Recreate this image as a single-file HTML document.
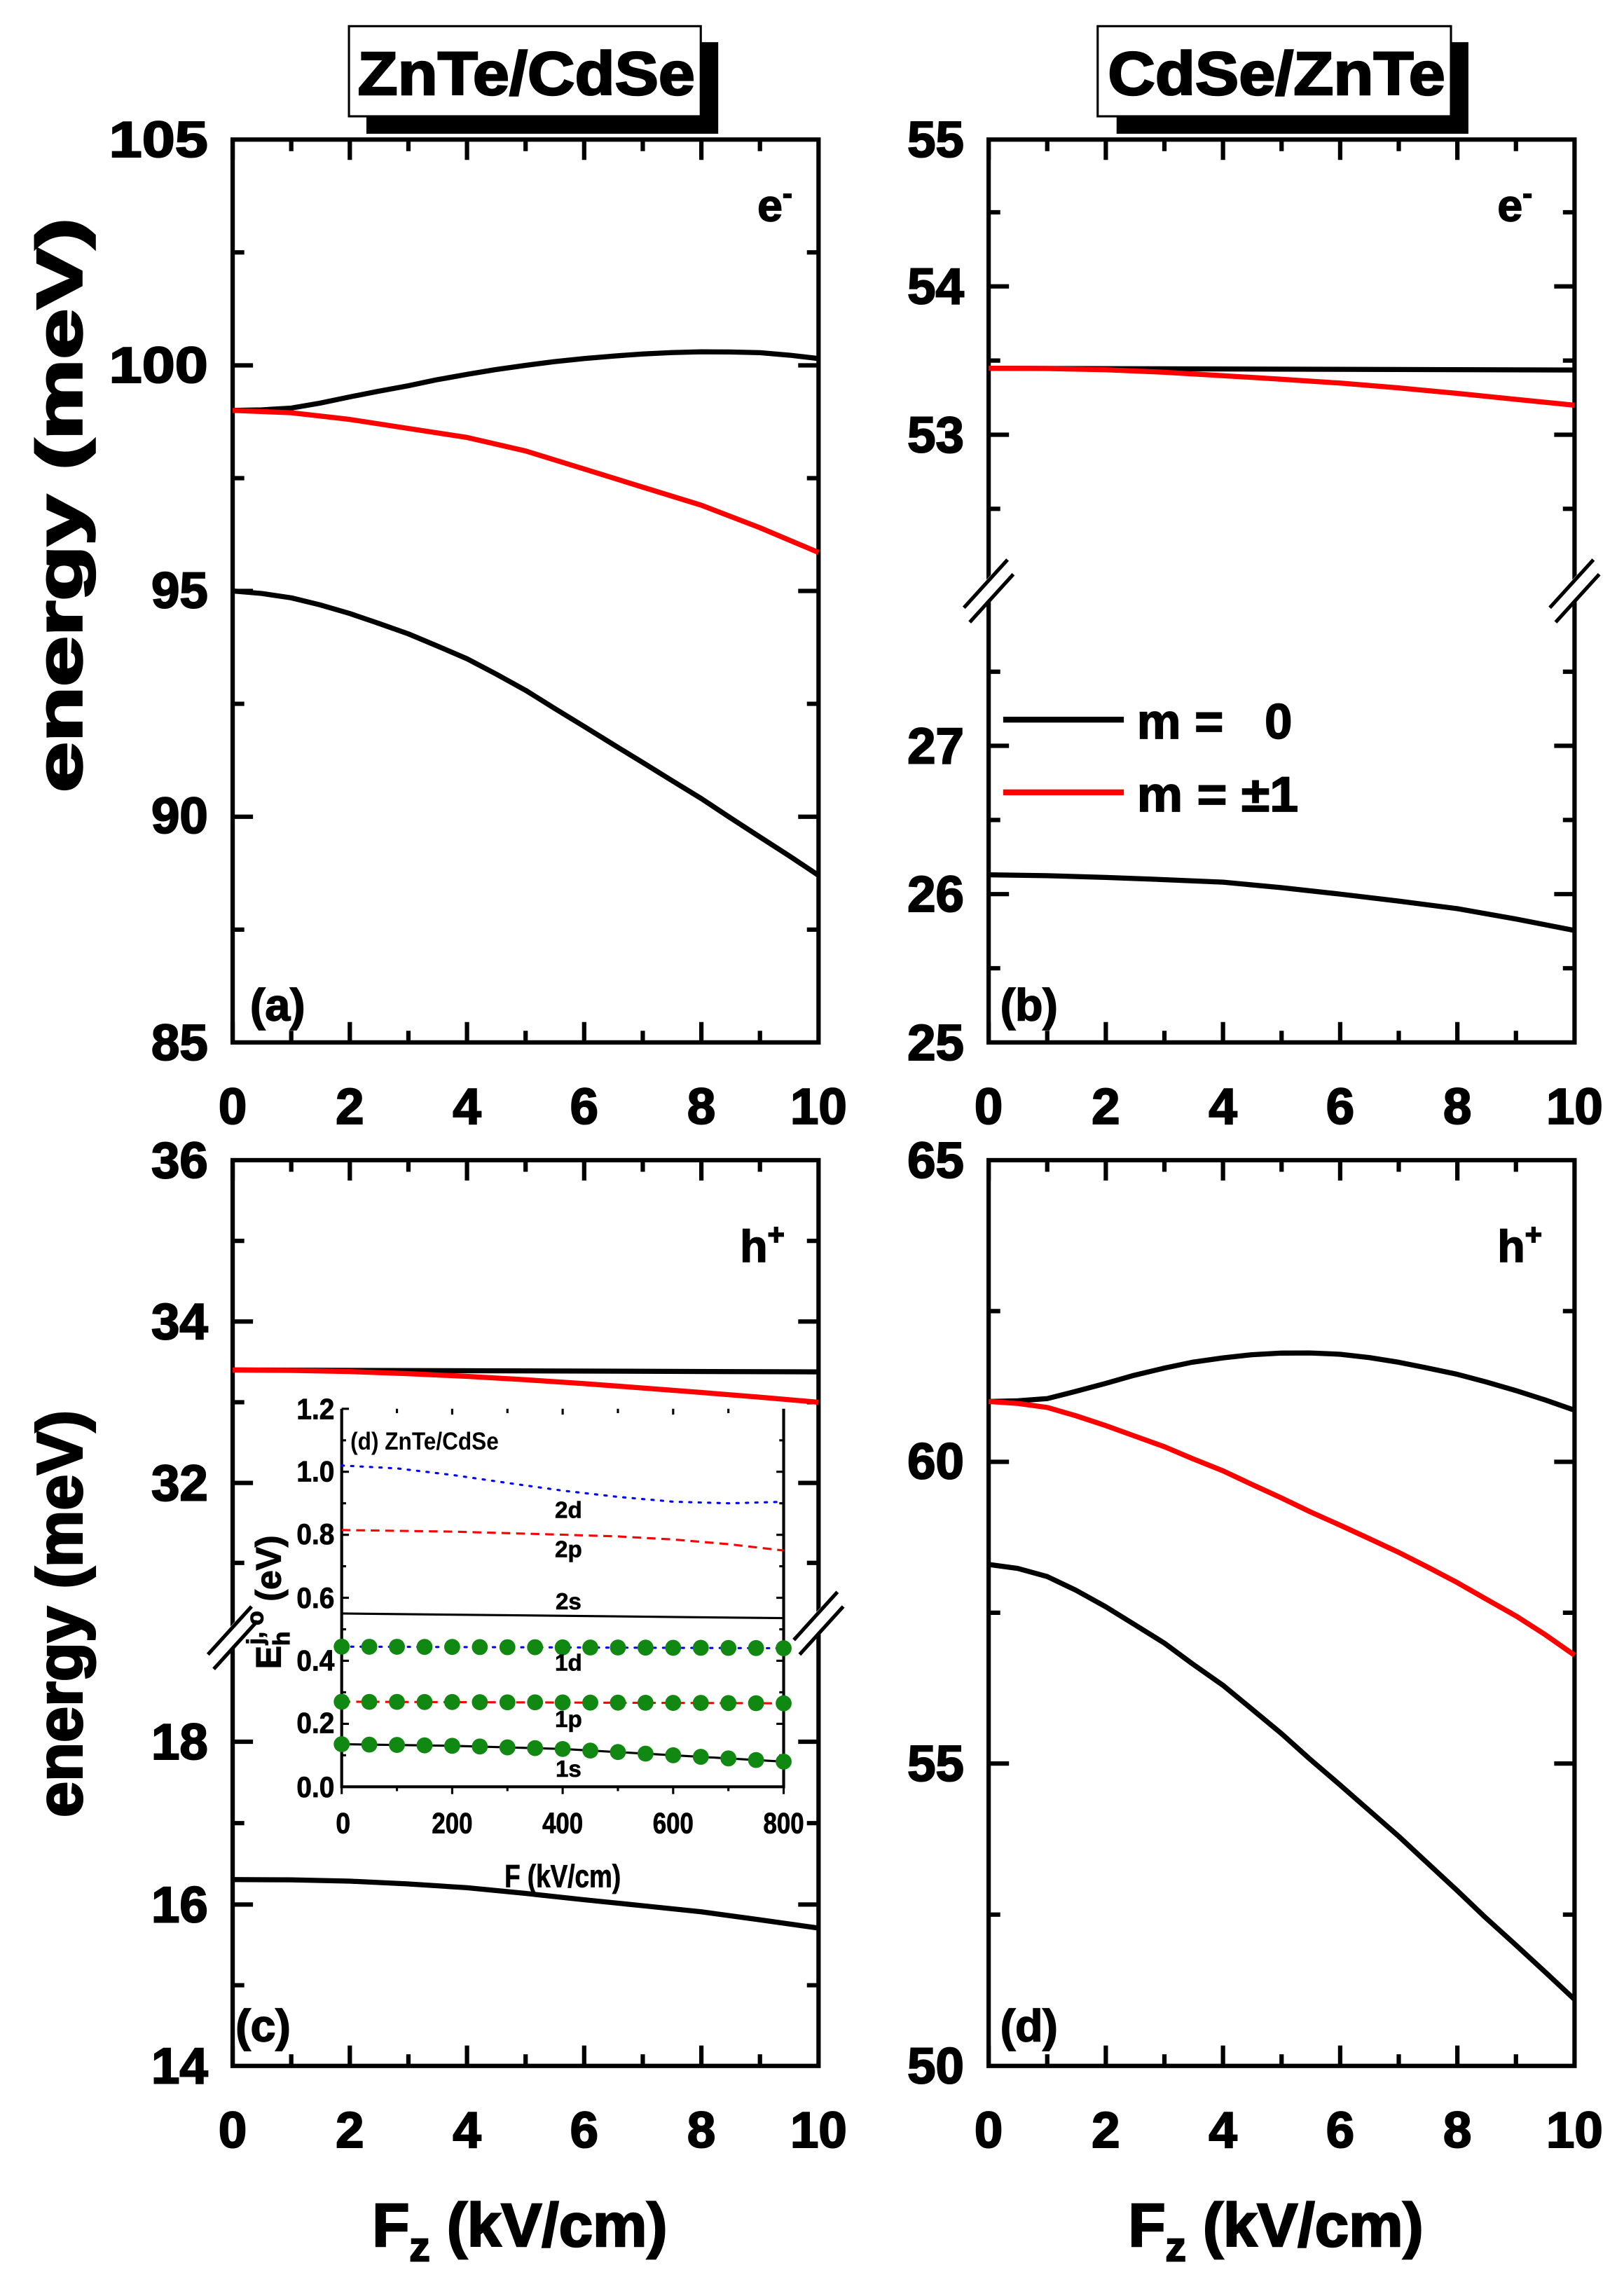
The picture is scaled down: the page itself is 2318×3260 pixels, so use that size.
<!DOCTYPE html>
<html><head><meta charset="utf-8"><style>html,body{margin:0;padding:0;background:#fff}svg{display:block}</style></head>
<body>
<svg width="2318" height="3260" viewBox="0 0 1117 1571" xmlns="http://www.w3.org/2000/svg" font-family="Liberation Sans, Arial, sans-serif" font-weight="bold">
<rect width="1117" height="1571" fill="#fff"/>
<rect x="252" y="29" width="242" height="63" fill="#000"/>
<rect x="240" y="18" width="242" height="62" fill="#fff" stroke="#000" stroke-width="1.5"/>
<text x="246" y="65" font-size="42" stroke="#000" stroke-width="1.2" textLength="232" lengthAdjust="spacingAndGlyphs">ZnTe/CdSe</text>
<rect x="768" y="29" width="242" height="63" fill="#000"/>
<rect x="755" y="18" width="243" height="62" fill="#fff" stroke="#000" stroke-width="1.5"/>
<text x="762" y="65" font-size="42" stroke="#000" stroke-width="1.2" textLength="232" lengthAdjust="spacingAndGlyphs">CdSe/ZnTe</text>

<g id="frames" fill="none" stroke="#000" stroke-width="3">
<rect x="160" y="96" width="403" height="621"/>
<rect x="680" y="96" width="403" height="621"/>
<rect x="160" y="798" width="403" height="623"/>
<rect x="680" y="798" width="403" height="623"/>
</g>
<g stroke="#000" stroke-width="3">
<path d="M160 717v-14M200.3 717v-8M240.6 717v-14M280.9 717v-8M321.2 717v-14M361.5 717v-8M401.8 717v-14M442.1 717v-8M482.4 717v-14M522.7 717v-8
M160 96v14M200.3 96v8M240.6 96v14M280.9 96v8M321.2 96v14M361.5 96v8M401.8 96v14M442.1 96v8M482.4 96v14M522.7 96v8
M680 717v-14M720.3 717v-8M760.6 717v-14M800.9 717v-8M841.2 717v-14M881.5 717v-8M921.8 717v-14M962.1 717v-8M1002.4 717v-14M1042.7 717v-8
M680 96v14M720.3 96v8M760.6 96v14M800.9 96v8M841.2 96v14M881.5 96v8M921.8 96v14M962.1 96v8M1002.4 96v14M1042.7 96v8
M160 1421v-14M200.3 1421v-8M240.6 1421v-14M280.9 1421v-8M321.2 1421v-14M361.5 1421v-8M401.8 1421v-14M442.1 1421v-8M482.4 1421v-14M522.7 1421v-8
M160 798v14M200.3 798v8M240.6 798v14M280.9 798v8M321.2 798v14M361.5 798v8M401.8 798v14M442.1 798v8M482.4 798v14M522.7 798v8
M680 1421v-14M720.3 1421v-8M760.6 1421v-14M800.9 1421v-8M841.2 1421v-14M881.5 1421v-8M921.8 1421v-14M962.1 1421v-8M1002.4 1421v-14M1042.7 1421v-8
M680 798v14M720.3 798v8M760.6 798v14M800.9 798v8M841.2 798v14M881.5 798v8M921.8 798v14M962.1 798v8M1002.4 798v14M1042.7 798v8"/>
<path d="M160 251.3h14M160 406.5h14M160 561.8h14M160 173.6h8M160 328.9h8M160 484.1h8M160 639.4h8
M563 251.3h-14M563 406.5h-14M563 561.8h-14M563 173.6h-8M563 328.9h-8M563 484.1h-8M563 639.4h-8"/>
<path d="M680 197h14M680 299h14M680 513h14M680 615h14M680 146h8M680 248h8M680 350h8M680 462h8M680 564h8M680 666h8
M1083 197h-14M1083 299h-14M1083 513h-14M1083 615h-14M1083 146h-8M1083 248h-8M1083 350h-8M1083 462h-8M1083 564h-8M1083 666h-8"/>
<path d="M160 909h14M160 1020h14M160 1198h14M160 1310h14M160 853.5h8M160 964.5h8M160 1075h8M160 1254h8M160 1365.5h8
M563 909h-14M563 1020h-14M563 1198h-14M563 1310h-14M563 853.5h-8M563 964.5h-8M563 1075h-8M563 1254h-8M563 1365.5h-8"/>
<path d="M680 1005.5h14M680 1213h14M680 901.8h8M680 1109.3h8M680 1316.9h8
M1083 1005.5h-14M1083 1213h-14M1083 901.8h-8M1083 1109.3h-8M1083 1316.9h-8"/>
</g>
<g>
<path d="M663 423L697 386M1066 423L1100 386M143 1143L177 1106M546 1133L580 1096" stroke="#fff" stroke-width="10"/>
<path d="M663 418L693 385M667 428L697 395M1066 418L1096 385M1070 428L1100 395M143 1138L173 1105M147 1148L177 1115M546 1128L576 1095M550 1138L580 1105" stroke="#000" stroke-width="2.5"/>
</g>

<g font-size="35" text-anchor="end" stroke="#000" stroke-width="1">
<text x="143" y="108" textLength="68" lengthAdjust="spacingAndGlyphs">105</text><text x="143" y="263" textLength="68" lengthAdjust="spacingAndGlyphs">100</text><text x="143" y="418">95</text><text x="143" y="573">90</text><text x="143" y="729">85</text>
<text x="663" y="108">55</text><text x="663" y="209">54</text><text x="663" y="311">53</text><text x="663" y="525">27</text><text x="663" y="627">26</text><text x="663" y="729">25</text>
<text x="143" y="810">36</text><text x="143" y="921">34</text><text x="143" y="1032">32</text><text x="143" y="1210">18</text><text x="143" y="1322">16</text><text x="143" y="1433">14</text>
<text x="663" y="810">65</text><text x="663" y="1017">60</text><text x="663" y="1225">55</text><text x="663" y="1433">50</text>
</g>
<g font-size="35" text-anchor="middle" stroke="#000" stroke-width="1">
<text x="160" y="773">0</text><text x="240.6" y="773">2</text><text x="321.2" y="773">4</text><text x="401.8" y="773">6</text><text x="482.4" y="773">8</text><text x="563" y="773">10</text>
<text x="680" y="773">0</text><text x="760.6" y="773">2</text><text x="841.2" y="773">4</text><text x="921.8" y="773">6</text><text x="1002.4" y="773">8</text><text x="1083" y="773">10</text>
<text x="160" y="1477">0</text><text x="240.6" y="1477">2</text><text x="321.2" y="1477">4</text><text x="401.8" y="1477">6</text><text x="482.4" y="1477">8</text><text x="563" y="1477">10</text>
<text x="680" y="1477">0</text><text x="760.6" y="1477">2</text><text x="841.2" y="1477">4</text><text x="921.8" y="1477">6</text><text x="1002.4" y="1477">8</text><text x="1083" y="1477">10</text>
</g>
<text transform="translate(56 545) rotate(-90)" font-size="44" stroke="#000" stroke-width="1.5" textLength="395" lengthAdjust="spacingAndGlyphs">energy (meV)</text>
<text transform="translate(56 1250) rotate(-90)" font-size="44" stroke="#000" stroke-width="1.5" textLength="280" lengthAdjust="spacingAndGlyphs">energy (meV)</text>
<text x="256" y="1545" font-size="42" stroke="#000" stroke-width="1.2">F<tspan font-size="28" dy="10">z</tspan><tspan dy="-10"> (kV/cm)</tspan></text>
<text x="776" y="1545" font-size="42" stroke="#000" stroke-width="1.2">F<tspan font-size="28" dy="10">z</tspan><tspan dy="-10"> (kV/cm)</tspan></text>

<g font-size="31" stroke="#000" stroke-width="0.8">
<text x="521" y="152">e<tspan font-size="20" dy="-12">-</tspan></text>
<text x="1030" y="152">e<tspan font-size="20" dy="-12">-</tspan></text>
<text x="509" y="868">h<tspan font-size="20" dy="-12">+</tspan></text>
<text x="1030" y="868">h<tspan font-size="20" dy="-12">+</tspan></text>
<text x="172" y="702">(a)</text>
<text x="688" y="702">(b)</text>
<text x="162" y="1404">(c)</text>
<text x="688" y="1404">(d)</text>
</g>
<line x1="690" y1="495" x2="773" y2="495" stroke="#000" stroke-width="4"/>
<line x1="690" y1="545" x2="773" y2="545" stroke="#f00" stroke-width="4"/>
<text x="782" y="508" font-size="34" stroke="#000" stroke-width="0.8" xml:space="preserve">m =   0</text>
<text x="782" y="558" font-size="34" stroke="#000" stroke-width="0.8" textLength="111" lengthAdjust="spacingAndGlyphs">m = ±1</text>

<g fill="none" stroke-width="3.5" stroke-linejoin="round">
<polyline stroke="#000" points="160,282.3 180,281.9 200.3,280.7 220,277.3 240.6,273 260,269.2 280.9,265.3 300,261.3 321.2,257.5 341,254.2 361.5,251.3 381,248.8 401.8,246.6 422,244.9 442.1,243.5 462,242.5 482.4,242 502,242.1 522.7,242.6 543,244.3 563,246.6"/>
<polyline stroke="#f00" points="160,282.3 200.3,283.9 240.6,288.5 280.9,294.7 321.2,300.9 361.5,310.2 401.8,322.6 442.1,335.1 482.4,347.5 522.7,363 563,380"/>
<polyline stroke="#000" points="160,406.5 180,408.2 200.3,411.2 220,416 240.6,422 260,428.6 280.9,436 300,444 321.2,453.1 341,463.5 361.5,474.8 381,487 401.8,499.7 422,512.2 442.1,524.5 462,536.8 482.4,549.3 502,562.3 522.7,575.7 543,588.8 563,602.1"/>

<polyline stroke="#000" points="680,253.3 1083,254.5"/>
<polyline stroke="#f00" points="680,253.3 720,253.5 760.6,254.3 800,256 841.2,258.4 881,260.8 921.8,263.5 962,266.8 1002.4,270.6 1042,274.6 1083,278.7"/>
<polyline stroke="#000" points="680,601.7 720,602.3 760.6,603.5 800,605 841.2,606.8 881,610.5 921.8,615 962,619.8 1002.4,625 1042,632 1083,640"/>

<polyline stroke="#000" points="160,942.3 563,943.6"/>
<polyline stroke="#f00" points="160,942.3 200,942.6 240.6,943.4 280,944.8 321.2,946.7 361,949 401.8,951.7 442,954.7 482.4,957.8 522,961 563,964.5"/>
<polyline stroke="#000" points="160,1292.8 200,1293 240.6,1293.9 280,1295.8 321.2,1298.4 361,1302.3 401.8,1306.7 442,1310.8 482.4,1315 522,1320.4 563,1326.2"/>

<polyline stroke="#000" points="680,964 700,963.5 720.3,962 740,957 760.6,951.5 780,946 800.9,941 820,937 841.2,934 861,931.8 881.5,930.7 901,930.6 921.8,931.5 942,933.8 962.1,937 982,941 1002.4,945.3 1022,950.5 1042.7,956.5 1063,963 1083,970"/>
<polyline stroke="#f00" points="680,964 700,965.3 720.3,968.1 740,973.8 760.6,980.6 780,987.6 800.9,995.1 820,1003.2 841.2,1011.7 861,1021 881.5,1030.4 901,1039.8 921.8,1049.1 942,1058.4 962.1,1067.8 982,1077.9 1002.4,1088.6 1022,1099.8 1042.7,1111.5 1063,1124.5 1083,1138.5"/>
<polyline stroke="#000" points="680,1076.1 700,1078.8 720.3,1084.4 740,1093.8 760.6,1105.2 780,1117.2 800.9,1130.2 820,1144.3 841.2,1159.2 861,1175.5 881.5,1192.5 901,1210 921.8,1227.8 942,1245.5 962.1,1263.1 982,1281.6 1002.4,1300.5 1022,1319.2 1042.7,1337.9 1063,1356.6 1083,1375.3"/>
</g>

<g>
<rect x="235" y="969" width="304" height="260" fill="#fff"/>
<path d="M235 969V1229H539V969" fill="none" stroke="#000" stroke-width="2"/>
<g stroke="#000" stroke-width="1.5">
<path d="M235 1229h5M235 1185.7h5M235 1142.3h5M235 1099h5M235 1055.7h5M235 1012.3h5M235 969h5M235 1207.3h3M235 1164h3M235 1120.7h3M235 1077.3h3M235 1034h3M235 990.7h3
M539 1185.7h-5M539 1142.3h-5M539 1099h-5M539 1055.7h-5M539 1012.3h-5M539 1207.3h-3M539 1164h-3M539 1120.7h-3M539 1077.3h-3M539 1034h-3M539 990.7h-3
M235 1229v5M311 1229v5M387 1229v5M463 1229v5M539 1229v5M273 1229v3M349 1229v3M425 1229v3M501 1229v3
M311 969v4M387 969v4M463 969v4M273 969v3M349 969v3M425 969v3M501 969v3"/>
</g>
<g font-size="20" text-anchor="end" stroke="#000" stroke-width="0.4">
<text x="230" y="976" textLength="26" lengthAdjust="spacingAndGlyphs">1.2</text>
<text x="230" y="1019" textLength="26" lengthAdjust="spacingAndGlyphs">1.0</text>
<text x="230" y="1062" textLength="26" lengthAdjust="spacingAndGlyphs">0.8</text>
<text x="230" y="1106" textLength="26" lengthAdjust="spacingAndGlyphs">0.6</text>
<text x="230" y="1149" textLength="26" lengthAdjust="spacingAndGlyphs">0.4</text>
<text x="230" y="1192" textLength="26" lengthAdjust="spacingAndGlyphs">0.2</text>
<text x="230" y="1236" textLength="26" lengthAdjust="spacingAndGlyphs">0.0</text>
</g>
<g font-size="20" text-anchor="middle" stroke="#000" stroke-width="0.4">
<text x="236" y="1261" textLength="10" lengthAdjust="spacingAndGlyphs">0</text><text x="311" y="1261" textLength="28" lengthAdjust="spacingAndGlyphs">200</text><text x="387" y="1261" textLength="28" lengthAdjust="spacingAndGlyphs">400</text><text x="463" y="1261" textLength="28" lengthAdjust="spacingAndGlyphs">600</text><text x="539" y="1261" textLength="28" lengthAdjust="spacingAndGlyphs">800</text>
</g>
<text x="347" y="1298" font-size="22" stroke="#000" stroke-width="0.4" textLength="80" lengthAdjust="spacingAndGlyphs">F (kV/cm)</text>
<text x="241" y="997" font-size="17" textLength="102" lengthAdjust="spacingAndGlyphs">(d) ZnTe/CdSe</text>
<text transform="translate(193 1148) rotate(-90)" font-size="24" stroke="#000" stroke-width="0.6">E<tspan font-size="16" dy="6">h</tspan><tspan font-size="16" dy="-18" dx="-9">j, o</tspan><tspan dy="12"> (eV)</tspan></text>
<g fill="none" stroke-width="1.5">
<polyline stroke="#0000ff" stroke-dasharray="1.5 5" stroke-linecap="round" points="235,1008 273,1010 311,1014.5 349,1020 387,1025.3 425,1029.6 463,1032.9 501,1034 539,1033"/>
<polyline stroke="#f00" stroke-dasharray="6 4" points="235,1052.4 311,1053.5 387,1055.6 425,1056.8 463,1058.9 501,1062.1 539,1066.5"/>
<polyline stroke="#000" points="235,1109.8 539,1113"/>
<polyline stroke="#0000ff" stroke-dasharray="1.5 5" stroke-linecap="round" points="235,1132.6 539,1133.7"/>
<polyline stroke="#f00" stroke-dasharray="6 4" points="235,1170.5 539,1171.6"/>
<polyline stroke="#000" points="235,1199.7 311,1200.8 387,1203 463,1207.3 539,1211.7"/>
</g>
<g fill="#118811">
<circle cx="235" cy="1132.6" r="5.5"/><circle cx="254" cy="1132.7" r="5.5"/><circle cx="273" cy="1132.7" r="5.5"/><circle cx="292" cy="1132.8" r="5.5"/><circle cx="311" cy="1132.8" r="5.5"/><circle cx="330" cy="1132.9" r="5.5"/><circle cx="349" cy="1133" r="5.5"/><circle cx="368" cy="1133" r="5.5"/><circle cx="387" cy="1133.1" r="5.5"/><circle cx="406" cy="1133.2" r="5.5"/><circle cx="425" cy="1133.2" r="5.5"/><circle cx="444" cy="1133.3" r="5.5"/><circle cx="463" cy="1133.4" r="5.5"/><circle cx="482" cy="1133.4" r="5.5"/><circle cx="501" cy="1133.5" r="5.5"/><circle cx="520" cy="1133.6" r="5.5"/><circle cx="539" cy="1133.7" r="5.5"/>
<circle cx="235" cy="1170.5" r="5.5"/><circle cx="254" cy="1170.6" r="5.5"/><circle cx="273" cy="1170.6" r="5.5"/><circle cx="292" cy="1170.7" r="5.5"/><circle cx="311" cy="1170.7" r="5.5"/><circle cx="330" cy="1170.8" r="5.5"/><circle cx="349" cy="1170.9" r="5.5"/><circle cx="368" cy="1170.9" r="5.5"/><circle cx="387" cy="1171" r="5.5"/><circle cx="406" cy="1171.1" r="5.5"/><circle cx="425" cy="1171.1" r="5.5"/><circle cx="444" cy="1171.2" r="5.5"/><circle cx="463" cy="1171.3" r="5.5"/><circle cx="482" cy="1171.3" r="5.5"/><circle cx="501" cy="1171.4" r="5.5"/><circle cx="520" cy="1171.5" r="5.5"/><circle cx="539" cy="1171.6" r="5.5"/>
<circle cx="235" cy="1199.7" r="5.5"/><circle cx="254" cy="1200" r="5.5"/><circle cx="273" cy="1200.2" r="5.5"/><circle cx="292" cy="1200.5" r="5.5"/><circle cx="311" cy="1200.8" r="5.5"/><circle cx="330" cy="1201.3" r="5.5"/><circle cx="349" cy="1201.9" r="5.5"/><circle cx="368" cy="1202.4" r="5.5"/><circle cx="387" cy="1203" r="5.5"/><circle cx="406" cy="1204.1" r="5.5"/><circle cx="425" cy="1205.1" r="5.5"/><circle cx="444" cy="1206.2" r="5.5"/><circle cx="463" cy="1207.3" r="5.5"/><circle cx="482" cy="1208.4" r="5.5"/><circle cx="501" cy="1209.5" r="5.5"/><circle cx="520" cy="1210.6" r="5.5"/><circle cx="539" cy="1211.7" r="5.5"/>
</g>
<g font-size="16" text-anchor="middle" stroke="#000" stroke-width="0.3">
<text x="391" y="1044">2d</text><text x="391" y="1071">2p</text><text x="391" y="1107">2s</text><text x="391" y="1149">1d</text><text x="391" y="1188">1p</text><text x="391" y="1222">1s</text>
</g>
</g>
</svg>
</body></html>
